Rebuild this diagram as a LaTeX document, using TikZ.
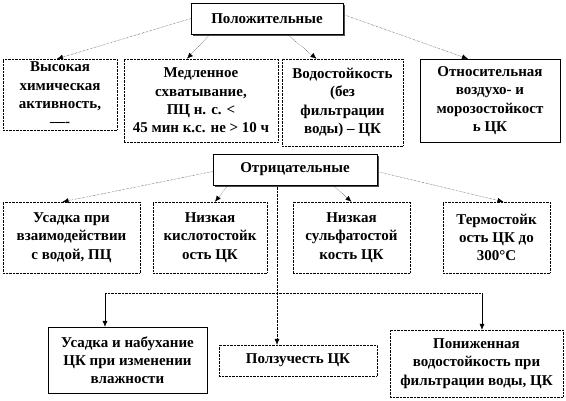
\documentclass[tikz,border=0pt]{standalone}
\usepackage{fontspec}
\setmainfont{Liberation Serif}
\usetikzlibrary{arrows.meta,shadows}

\tikzset{
  box/.style={draw, thin, align=center, inner sep=2pt, fill=white,
    font=\fontsize{15}{18.3}\selectfont\bfseries},
  dotbox/.style={box, densely dotted},
  head/.style={box, drop shadow={shadow xshift=1.5pt, shadow yshift=-1.5pt, fill=black, opacity=0.7}},
  link/.style={densely dotted, -{Latex[length=6pt,width=5pt]}},
  line/.style={thin, -{Latex[length=6pt,width=5pt]}}
}

\begin{document}
\begin{tikzpicture}[x=1pt,y=-1pt]

\useasboundingbox (0,0) rectangle (566,400);

% positive properties
\node[head, minimum width=152pt, minimum height=31pt] (pos) at (267,18.5) {Положительные};

\node[dotbox, minimum width=114pt, minimum height=71pt] (b1) at (60,94.5)
  {Высокая\\химическая\\активность,\\—-};
\node[dotbox, minimum width=154pt, minimum height=83pt] (b2) at (201,100.5)
  {Медленное\\схватывание,\\ПЦ н. с. <\\45 мин к.с. не > 10 ч};
\node[dotbox, minimum width=121pt, minimum height=87pt] (b3) at (342.5,102.5)
  {Водостойкость\\(без\\фильтрации\\воды) – ЦК};
\node[box, minimum width=140pt, minimum height=83pt] (b4) at (490,100.5)
  {Относительная\\воздухо- и\\морозостойкост\\ь ЦК};

\draw[link] (pos.west) -- ([xshift=-3pt]b1.north);
\draw[link] ([xshift=-57pt]pos.south) -- ([xshift=-14pt]b2.north);
\draw[link] ([xshift=20pt]pos.south) -- ([xshift=-26pt]b3.north);
\draw[link] ([yshift=4pt]pos.east) -- ([xshift=-22pt]b4.north);

% negative properties
\node[head, minimum width=164pt, minimum height=31pt] (neg) at (295,169.5) {Отрицательные};

\node[dotbox, minimum width=137pt, minimum height=71pt] (n1) at (71.5,237.5)
  {Усадка при\\взаимодействии\\с водой, ПЦ};
\node[dotbox, minimum width=114pt, minimum height=71pt] (n2) at (210,237.5)
  {Низкая\\кислотостойк\\ость ЦК};
\node[dotbox, minimum width=117pt, minimum height=71pt] (n3) at (351.5,237.5)
  {Низкая\\сульфатостой\\кость ЦК};
\node[dotbox, minimum width=107pt, minimum height=71pt] (n4) at (496.5,237.5)
  {Термостойк\\ость ЦК до\\300°С};

\draw[link] ([yshift=-2pt]neg.west) -- ([xshift=-9pt]n1.north);
\draw[link] ([xshift=-67pt]neg.south) -- ([xshift=5pt]n2.north);
\draw[link] ([xshift=38pt]neg.south) -- (n3.north);
\draw[link] ([yshift=-2pt]neg.east) -- ([xshift=7pt]n4.north);

% lower row
\node[box, minimum width=159pt, minimum height=66pt] (m1) at (127.5,360)
  {Усадка и набухание\\ЦК при изменении\\влажности};
\node[dotbox, minimum width=158pt, minimum height=31pt] (m2) at (298,360.5)
  {Ползучесть ЦК};
\node[dotbox, minimum width=173pt, minimum height=67pt] (m3) at (476.5,363.5)
  {Пониженная\\водостойкость при\\фильтрации воды, ЦК};

\coordinate (hub) at (277,293);
\coordinate (barL) at (105,293);
\coordinate (barR) at (482,293);

\draw[link] (hub |- neg.south) -- (hub |- m2.north);
\draw[densely dotted] (barL) -- (barR);
\draw[line] (barL) -- (barL |- m1.north);
\draw[line] (barR) -- (barR |- m3.north);

\end{tikzpicture}
\end{document}
